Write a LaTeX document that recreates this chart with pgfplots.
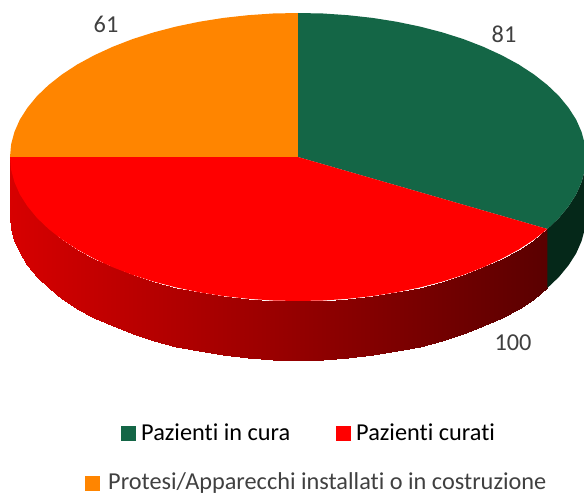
\documentclass[border=0pt]{standalone}
\usepackage{fontspec}
\setmainfont{Carlito}[Ligatures=CommonOff]
\usepackage{pgfplots}
\pgfplotsset{compat=1.18}
\definecolor{pgreen}{RGB}{20,102,70}
\definecolor{pgreendark}{RGB}{5,40,25}
\definecolor{porange}{RGB}{255,133,0}
\definecolor{pgrey}{RGB}{64,64,64}
\begin{document}
\begin{tikzpicture}
\useasboundingbox (0,0) rectangle (584pt,495pt);
\begin{axis}[at={(0,0)},anchor=south west,scale only axis,width=584pt,height=495pt,
  xmin=0,xmax=584,ymin=0,ymax=495,y dir=reverse,hide axis,
  colormap={side}{rgb255=(215,0,0) rgb255=(90,0,0)},
  point meta min=10,point meta max=547]
% red side wall
\addplot[surf,shader=interp,mesh/rows=2,mesh/check=false,point meta=x] table {
x y
10 157
11.1 169.6
14.4 182
19.8 194.3
27.4 206.2
37 217.9
48.6 229
62.1 239.6
77.4 249.6
94.4 258.8
112.9 267.3
132.8 275
154 281.7
176.3 287.5
199.5 292.3
223.5 296.1
248 298.8
272.9 300.5
298 301
323.1 300.5
348 298.8
372.5 296.1
396.5 292.3
419.7 287.5
442 281.7
463.2 275
483.1 267.3
501.6 258.8
518.6 249.6
533.9 239.6
547.4 229
10 216
11.1 228.6
14.4 241
19.8 253.3
27.4 265.2
37 276.9
48.6 288
62.1 298.6
77.4 308.6
94.4 317.8
112.9 326.3
132.8 334
154 340.7
176.3 346.5
199.5 351.3
223.5 355.1
248 357.8
272.9 359.5
298 360
323.1 359.5
348 357.8
372.5 355.1
396.5 351.3
419.7 346.5
442 340.7
463.2 334
483.1 326.3
501.6 317.8
518.6 308.6
533.9 298.6
547.4 288
};
% green side wall
\addplot[fill=pgreendark,draw=none] coordinates {
(547.4,229)(559,217.9)(568.6,206.2)(576.2,194.3)(581.6,182)(584.9,169.6)(586,157)
(586,216)(584.9,228.6)(581.6,241)(576.2,253.3)(568.6,265.2)(559,276.9)(547.4,288)} --cycle;
% top: orange, 61
\addplot[fill=porange,draw=none] coordinates {
(298,157)(10,157)(11.1,144.4)(14.4,132)(19.8,119.7)(27.4,107.8)(37,96.1)(48.6,85)(62.1,74.4)(77.4,64.4)(94.4,55.2)(112.9,46.7)(132.8,39)(154,32.3)(176.3,26.5)(199.5,21.7)(223.5,17.9)(248,15.2)(272.9,13.5)(298,13)} --cycle;
% top: green, 81
\addplot[fill=pgreen,draw=none] coordinates {
(298,157)(298,13)(323.1,13.5)(348,15.2)(372.5,17.9)(396.5,21.7)(419.7,26.5)(442,32.3)(463.2,39)(483.1,46.7)(501.6,55.2)(518.6,64.4)(533.9,74.4)(547.4,85)(559,96.1)(568.6,107.8)(576.2,119.7)(581.6,132)(584.9,144.4)(586,157)(584.9,169.6)(581.6,182)(576.2,194.3)(568.6,206.2)(559,217.9)(547.4,229)} --cycle;
% top: red, 100
\addplot[fill=red,draw=none] coordinates {
(298,157)(547.4,229)(533.9,239.6)(518.6,249.6)(501.6,258.8)(483.1,267.3)(463.2,275)(442,281.7)(419.7,287.5)(396.5,292.3)(372.5,296.1)(348,298.8)(323.1,300.5)(298,301)(272.9,300.5)(248,298.8)(223.5,296.1)(199.5,292.3)(176.3,287.5)(154,281.7)(132.8,275)(112.9,267.3)(94.4,258.8)(77.4,249.6)(62.1,239.6)(48.6,229)(37,217.9)(27.4,206.2)(19.8,194.3)(14.4,182)(11.1,169.6)(10,157)} --cycle;
% legend keys
\addplot[only marks,mark=square*,mark size=7pt,color=pgreen] coordinates {(128,433)};
\addplot[only marks,mark=square*,mark size=7pt,color=red] coordinates {(343,433)};
\addplot[only marks,mark=square*,mark size=7pt,color=porange] coordinates {(92,483)};
\node[anchor=base west,inner sep=0pt,font=\fontsize{24.3}{28}\selectfont] at (axis cs:141,440) {Pazienti in cura};
\node[anchor=base west,inner sep=0pt,font=\fontsize{24.3}{28}\selectfont] at (axis cs:356,440) {Pazienti curati};
\node[anchor=base west,inner sep=0pt,text=pgrey,font=\fontsize{24.3}{28}\selectfont] at (axis cs:108,489.5) {Protesi/Apparecchi installati o in costruzione};
\node[inner sep=0pt,text=pgrey,font=\fontsize{24.3}{28}\selectfont] at (axis cs:504,34) {81};
\node[inner sep=0pt,text=pgrey,font=\fontsize{24.3}{28}\selectfont] at (axis cs:513,343) {100};
\node[inner sep=0pt,text=pgrey,font=\fontsize{24.3}{28}\selectfont] at (axis cs:106,24) {61};
\end{axis}
\end{tikzpicture}
\end{document}
